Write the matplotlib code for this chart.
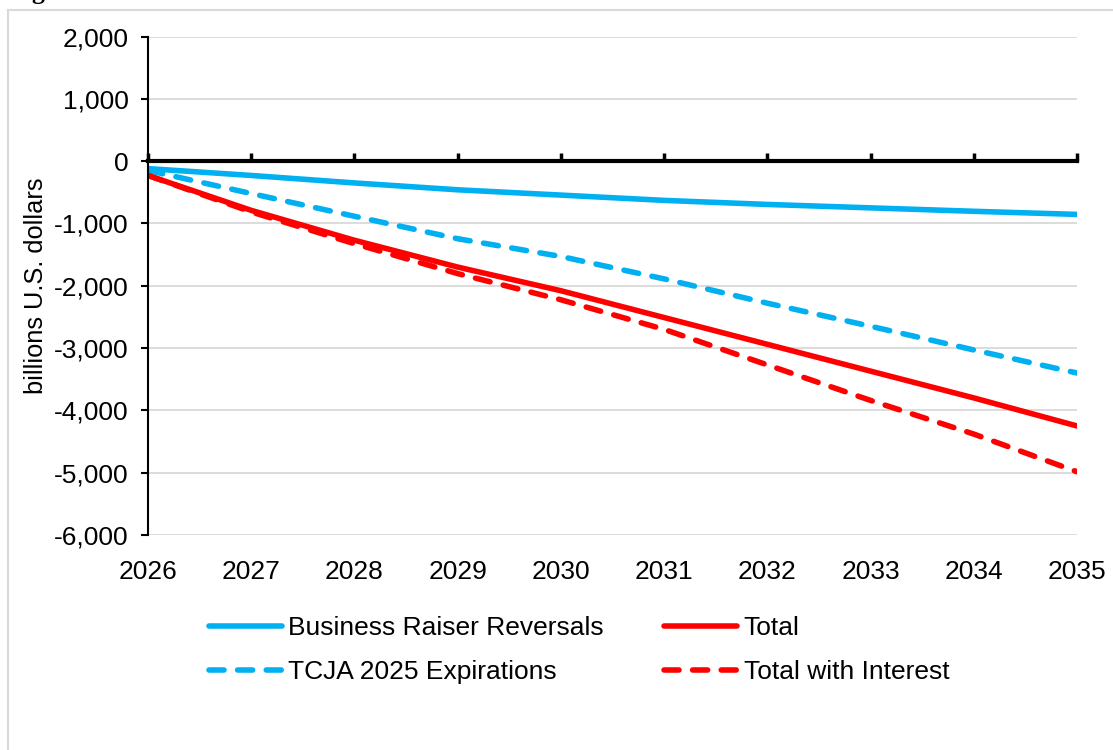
import matplotlib
matplotlib.use("Agg")
import matplotlib.pyplot as plt
from matplotlib.lines import Line2D
from matplotlib.ticker import FuncFormatter

# values (billions U.S. dollars)
years = [2026, 2027, 2028, 2029, 2030, 2031, 2032, 2033, 2034, 2035]
business = [-120, -230, -350, -460, -545, -630, -695, -750, -805, -855]
tcja = [-150, -520, -885, -1245, -1530, -1890, -2280, -2650, -3030, -3400]
total = [-230, -790, -1270, -1700, -2080, -2510, -2940, -3370, -3800, -4250]
total_int = [-230, -815, -1325, -1805, -2225, -2700, -3270, -3840, -4380, -4985]
yticks = [2000, 1000, 0, -1000, -2000, -3000, -4000, -5000, -6000]

blue = '#00B0F0'
red = '#FF0000'

plt.rcParams['font.family'] = ['Liberation Sans', 'DejaVu Sans']

fig = plt.figure(figsize=(11.13, 7.5), dpi=100)
ax = fig.add_axes([148/1113, 1 - 535/750, 929/1113, 498.5/750])

# gridlines
ax.set_axisbelow(True)
ax.yaxis.grid(True, color='#D9D9D9', lw=1.3)

lw = 4
dash = (0, (2.7, 2.45))
ax.plot(years, business, color=blue, lw=lw, solid_capstyle='round', label='Business Raiser Reversals')
ax.plot(years, tcja, color=blue, lw=lw, ls=dash, dash_capstyle='round', label='TCJA 2025 Expirations')
ax.plot(years, total, color=red, lw=lw, solid_capstyle='round', label='Total')
ax.plot(years, total_int, color=red, lw=lw, ls=dash, dash_capstyle='round', label='Total with Interest')

ax.set_xlim(2026, 2035)
ax.set_ylim(-6000, 2000)
ax.set_yticks(yticks)
ax.yaxis.set_major_formatter(FuncFormatter(lambda v, p: f'{int(v):,}'))

# x axis line sits at zero, ticks point up
ax.spines['bottom'].set_position(('data', 0))
ax.spines['bottom'].set_linewidth(3)
ax.spines['bottom'].set_zorder(1.5)
ax.spines['top'].set_visible(False)
ax.spines['right'].set_visible(False)
ax.spines['left'].set_linewidth(1.5)
ax.set_xticks(years)
ax.tick_params(axis='x', direction='in', length=5.5, width=2.5, labelbottom=False)
ax.tick_params(axis='y', direction='out', length=5, width=1.5, labelsize=19, pad=9)

# year labels at the bottom of the plot area
secax = ax.secondary_xaxis('bottom')
secax.set_xticks(years)
secax.xaxis.set_major_formatter(FuncFormatter(lambda v, p: f'{int(v)}'))
secax.spines['bottom'].set_visible(False)
secax.tick_params(length=0, labelsize=19, pad=18)

ax.set_ylabel('billions U.S. dollars', fontsize=18.3)
ax.yaxis.set_label_coords(-0.108, 0.5)

fig.legend(loc='upper left', bbox_to_anchor=(209/1113, 1 - 616/750), ncol=2,
           frameon=False, fontsize=19, handlelength=2.75, handletextpad=0.25,
           columnspacing=2.3, labelspacing=0.75, borderpad=0, borderaxespad=0)

# outer light grey border (top and left) and clipped caption
fig.add_artist(Line2D([7.5/1113, 7.5/1113], [0, 1 - 9.5/750], transform=fig.transFigure,
                      color='#D9D9D9', lw=1.5))
fig.add_artist(Line2D([7.5/1113, 1], [1 - 9.5/750, 1 - 9.5/750], transform=fig.transFigure,
                      color='#D9D9D9', lw=1.5))
fig.text(10/1113, 1 + 0.5/750, 'Figure', fontfamily='Liberation Serif', fontweight='bold',
         fontsize=18.5, va='baseline')

fig.savefig('out.png', dpi=100)
